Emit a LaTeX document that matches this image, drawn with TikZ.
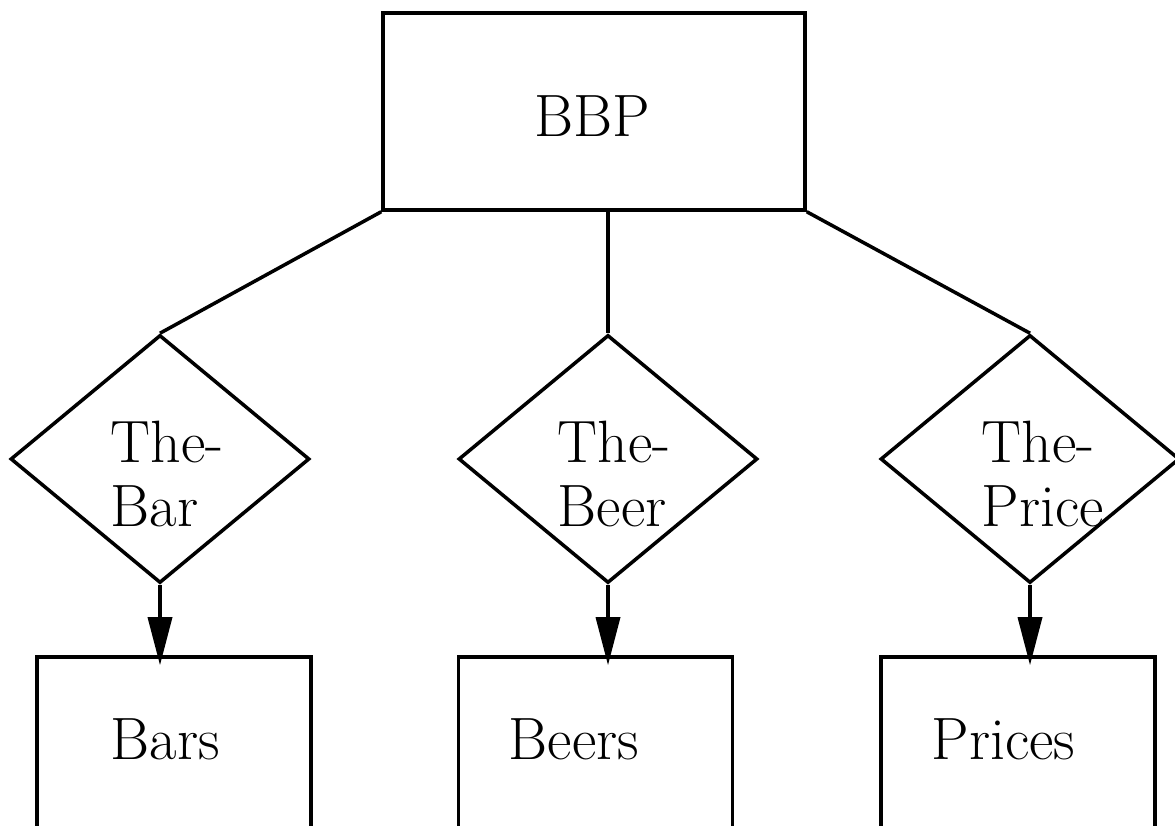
\documentclass[tikz,border=0pt]{standalone}
\usetikzlibrary{shapes.geometric,arrows.meta}
\begin{document}
\begin{tikzpicture}[line width=1pt,
	box/.style={draw,rectangle,inner sep=0pt},
	rel/.style={draw,diamond,inner sep=0pt,minimum width=2.99cm,minimum height=2.48cm},
	lbl/.style={inner sep=0pt,anchor=base west,align=left,font=\fontsize{17}{18.2}\selectfont}]
\useasboundingbox (0,0) rectangle (11.75,8.26);
\clip (0,0) rectangle (11.75,8.26);

\node [box,minimum width=4.22cm,minimum height=1.97cm] (bbp) at (5.94,7.145) {};
\node [lbl] (bbp-t) at (5.33,6.89) {BBP};

\foreach \name/\x/\tx/\txt in {thebar/1.60/1.09/{The-\\Bar},thebeer/6.08/5.56/{The-\\Beer},theprice/10.30/9.80/{The-\\Price}} {
	\node [rel] (\name) at (\x,3.67) {};
	\node [lbl] (\name-t) at (\tx,2.995) {\txt};
}

\foreach \name/\x/\tx/\txt in {bars/1.74/1.09/Bars,beers/5.955/5.07/Beers,prices/10.18/9.30/Prices} {
	\node [box,minimum width=2.74cm,minimum height=2.2cm] (\name) at (\x,0.59) {};
	\node [lbl] (\name-t) at (\tx,0.66) {\txt};
}

\draw (bbp.south west) -- (thebar.north);
\draw (thebeer.north |- bbp.south) -- (thebeer.north);
\draw (bbp.south east) -- (theprice.north);
\foreach \d/\b in {thebar/bars,thebeer/beers,theprice/prices}
	\draw [-{Triangle[length=4.8mm,width=2.4mm]},shorten >=-0.1cm] (\d.south) -- (\d.south |- \b.north);
\end{tikzpicture}
\end{document}
